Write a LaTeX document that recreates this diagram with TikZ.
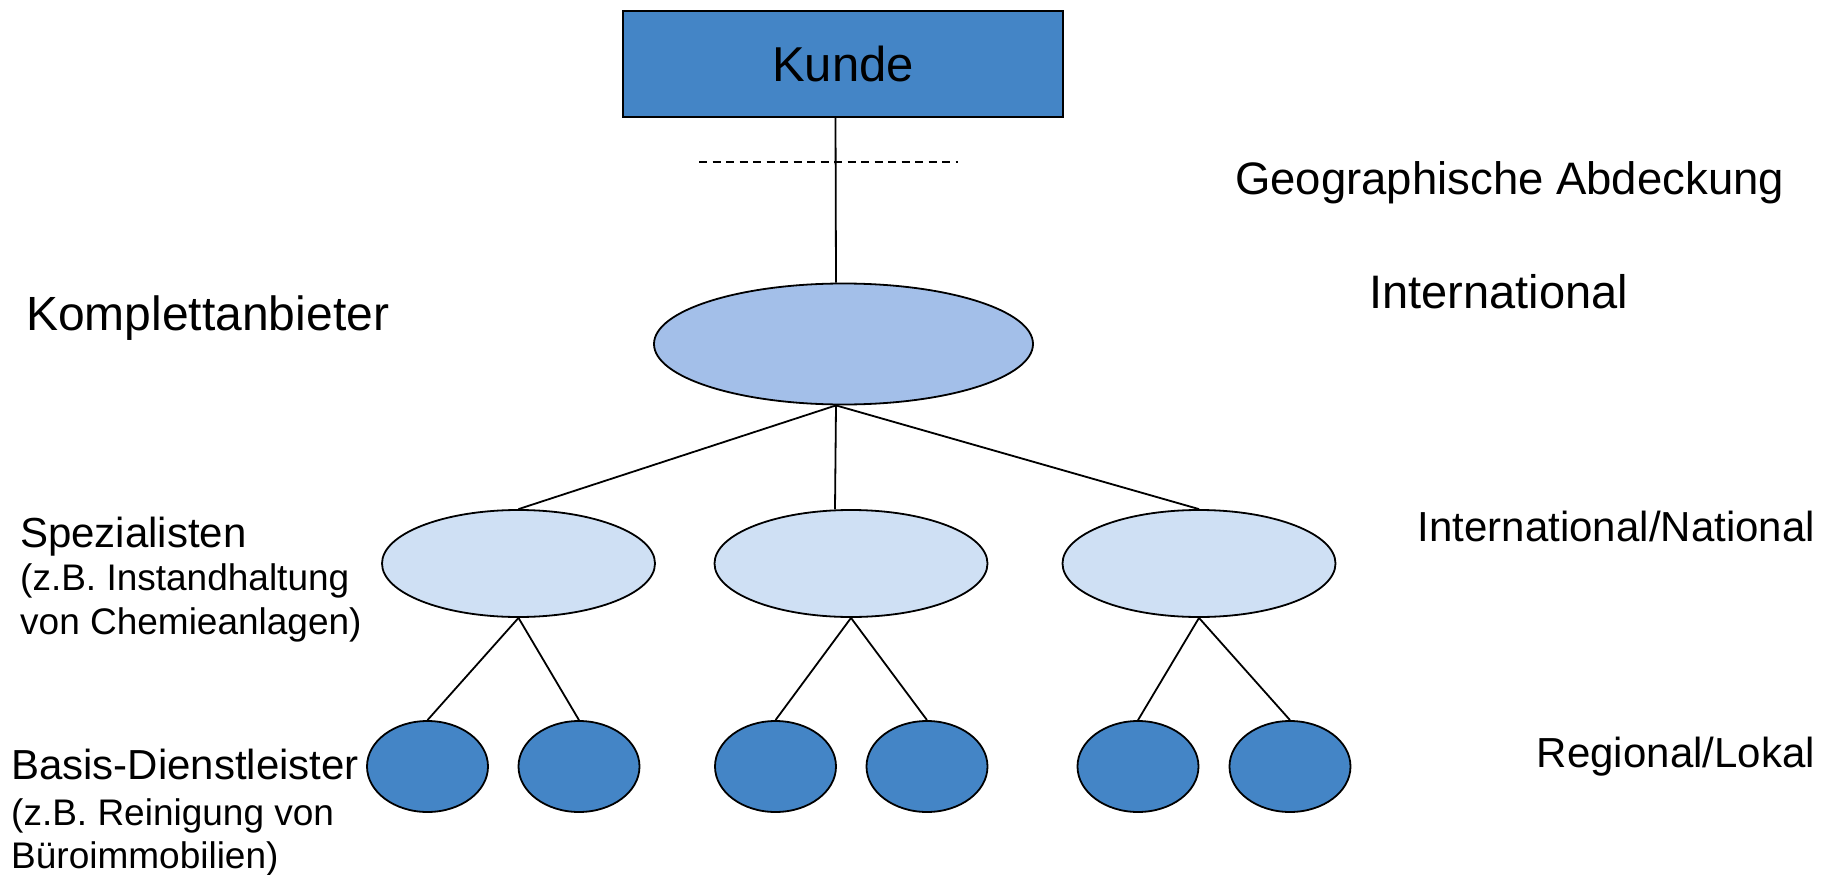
\documentclass[tikz,border=0pt]{standalone}
\usepackage{fontspec}
\setmainfont{Liberation Sans}
\usetikzlibrary{shapes.geometric}

\definecolor{topblue}{HTML}{4485C6}
\definecolor{midblue}{HTML}{A3BFE9}
\definecolor{paleblue}{HTML}{CFE0F4}

\tikzset{
  shapeline/.style={draw=black, line width=1.8pt},
  kundebox/.style={shapeline, rectangle, fill=topblue, minimum width=440pt, minimum height=106pt, inner sep=0pt},
  bigoval/.style={shapeline, ellipse, fill=midblue, minimum width=379pt, minimum height=121pt, inner sep=0pt},
  midoval/.style={shapeline, ellipse, fill=paleblue, minimum width=273pt, minimum height=107pt, inner sep=0pt},
  smalloval/.style={shapeline, ellipse, fill=topblue, minimum width=121pt, minimum height=91pt, inner sep=0pt},
  link/.style={draw=black, line width=1.8pt},
  bigtext/.style={inner sep=0pt, font=\fontsize{47}{56}\selectfont},
  medtext/.style={inner sep=0pt, font=\fontsize{42}{50}\selectfont},
  smalltext/.style={inner sep=0pt, font=\fontsize{37}{44}\selectfont},
}

\begin{document}
\begin{tikzpicture}[x=1pt, y=-1pt]
  \useasboundingbox (0,0) rectangle (1832,875);

  % hierarchy shapes
  \node[kundebox, bigtext, font=\fontsize{49}{58}\selectfont] (kunde) at (843,64) {Kunde};
  \node[bigoval] (big) at (843.5,344) {};

  \node[midoval] (ml) at (518.5,563.5) {};
  \node[midoval] (mc) at (851,563.5) {};
  \node[midoval] (mr) at (1199,563.5) {};

  \node[smalloval] (s1) at (427.5,766.5) {};
  \node[smalloval] (s2) at (579,766.5) {};
  \node[smalloval] (s3) at (775.5,766.5) {};
  \node[smalloval] (s4) at (927,766.5) {};
  \node[smalloval] (s5) at (1138,766.5) {};
  \node[smalloval] (s6) at (1290,766.5) {};

  % connectors
  \coordinate (kundefoot) at ([xshift=-7.5pt]kunde.south);
  \coordinate (bigtop) at ([xshift=-7.5pt]big.north);
  \coordinate (hub) at ([xshift=-7.5pt]big.south);
  \coordinate (mctop) at ([xshift=-16pt]mc.north);

  \draw[link] (kundefoot) -- (bigtop);
  \draw[link] (hub) -- (ml.north);
  \draw[link] (hub) -- (mctop);
  \draw[link] (hub) -- (mr.north);

  \draw[link] (ml.south) -- (s1.north);
  \draw[link] (ml.south) -- (s2.north);
  \draw[link] (mc.south) -- (s3.north);
  \draw[link] (mc.south) -- (s4.north);
  \draw[link] (mr.south) -- (s5.north);
  \draw[link] (mr.south) -- (s6.north);

  % dashed divider under the customer box
  \coordinate (dashL) at (699,162);
  \coordinate (dashR) at (958,162);
  \draw[line width=2pt, dash pattern=on 8pt off 5.5pt] (dashL) -- (dashR);

  % left-hand level labels
  \node[bigtext, anchor=base west, font=\fontsize{48}{57}\selectfont] (komplett) at (26,330) {Komplettanbieter};
  \node[medtext, anchor=base west] (spez) at (20,547) {Spezialisten};
  \node[smalltext, anchor=base west] (spezA) at (20,590) {(z.B. Instandhaltung};
  \node[smalltext, anchor=base west] (spezB) at (20,634) {von Chemieanlagen)};
  \node[medtext, anchor=base west] (basis) at (11,779) {Basis-Dienstleister};
  \node[smalltext, anchor=base west] (basisA) at (11,825) {(z.B. Reinigung von};
  \node[smalltext, anchor=base west] (basisB) at (11,868) {Büroimmobilien)};

  % right-hand coverage labels
  \node[bigtext, anchor=base west, font=\fontsize{45.5}{54}\selectfont] (geo) at (1235,194) {Geographische Abdeckung};
  \node[bigtext, anchor=base west] (intl) at (1369,308) {International};
  \node[medtext, anchor=base east] (intnat) at (1815,541) {International/National};
  \node[medtext, anchor=base east] (reglok) at (1815,767) {Regional/Lokal};
\end{tikzpicture}
\end{document}
